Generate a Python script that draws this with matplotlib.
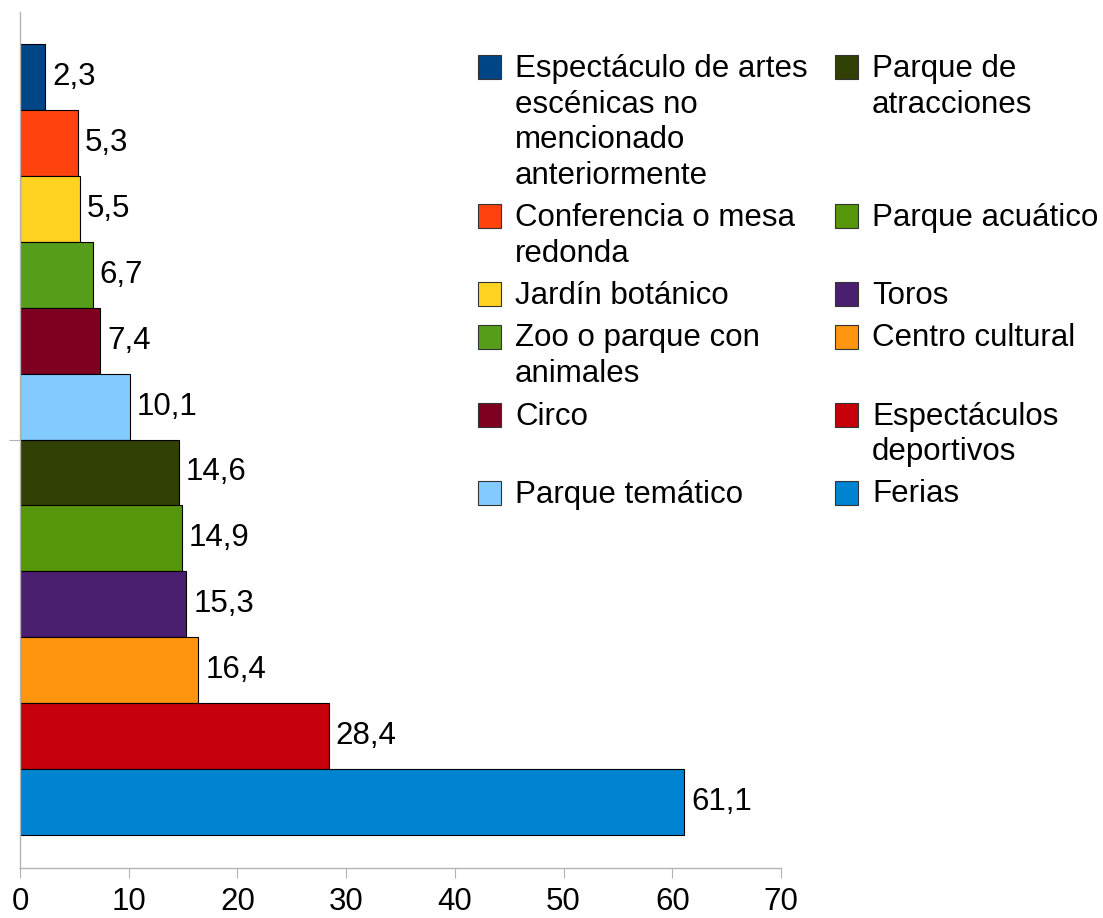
import matplotlib.pyplot as plt
from matplotlib.patches import Rectangle

# one series per bar, top to bottom (legend: first six in left column, last six in right)
categories = [
    "Espectáculo de artes\nescénicas no\nmencionado\nanteriormente",
    "Conferencia o mesa\nredonda",
    "Jardín botánico",
    "Zoo o parque con\nanimales",
    "Circo",
    "Parque temático",
    "Parque de\natracciones",
    "Parque acuático",
    "Toros",
    "Centro cultural",
    "Espectáculos\ndeportivos",
    "Ferias",
]
values = [2.3, 5.3, 5.5, 6.7, 7.4, 10.1, 14.6, 14.9, 15.3, 16.4, 28.4, 61.1]
colors = ["#004586", "#ff420e", "#ffd320", "#579d1c", "#7e0021", "#83caff",
          "#314004", "#55960a", "#4b1f6f", "#ff950e", "#c5000b", "#0084d1"]
x_ticks = [0, 10, 20, 30, 40, 50, 60, 70]

plt.rcParams['font.family'] = ['Liberation Sans', 'DejaVu Sans']
FS = 22.5
W, H = 1103, 918

fig = plt.figure(figsize=(W / 100, H / 100), dpi=100)
ax = fig.add_axes([20 / W, 1 - 868 / H, (781 - 20) / W, (868 - 12) / H])

pos = list(range(len(values)))
ax.barh(pos, values, height=1.0, color=colors, edgecolor='black', linewidth=0.8)
for p, v in zip(pos, values):
    ax.annotate(("%.1f" % v).replace('.', ','), (v, p), xytext=(5, 0),
                textcoords='offset points', va='center', ha='left', fontsize=FS)

ax.set_xlim(0, 70)
ax.set_ylim(12.0, -0.986)
ax.set_xticks(x_ticks)
ax.set_xticklabels([str(t) for t in x_ticks], fontsize=FS)
ax.set_yticks([5.507])
ax.set_yticklabels([''])
for s in ['top', 'right']:
    ax.spines[s].set_visible(False)
for s in ['left', 'bottom']:
    ax.spines[s].set_color('#b3b3b3')
    ax.spines[s].set_linewidth(1.0)
ax.tick_params(axis='x', length=7, color='#b3b3b3', pad=6.5)
ax.tick_params(axis='y', length=8, color='#b3b3b3')

# legend laid out like the original: two columns, rows aligned across columns
line_h, gap = 35.5, 7
y = 67
for i in range(6):
    for col, x0 in ((i, 478), (i + 6, 835)):
        fig.add_artist(Rectangle((x0 / W, 1 - (y + 12) / H), 23 / W, 24 / H,
                                 transform=fig.transFigure, facecolor=colors[col],
                                 edgecolor='#333333', linewidth=0.8))
        fig.text((x0 + 37) / W, 1 - (y - 13) / H, categories[col], fontsize=FS,
                 va='top', ha='left', linespacing=1.25)
    nl = max(categories[i].count('\n'), categories[i + 6].count('\n')) + 1
    y += nl * line_h + gap

fig.savefig('out.png', dpi=100)
